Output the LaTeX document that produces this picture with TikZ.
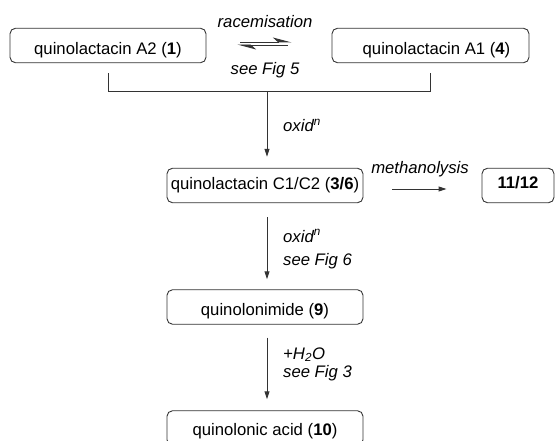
\documentclass[tikz,border=0pt]{standalone}
\usepackage{fontspec}
\setmainfont{Liberation Sans}
\usetikzlibrary{arrows.meta}
\begin{document}
\begin{tikzpicture}[x=1pt,y=-1pt,
  every node/.style={font=\fontsize{16.7}{20}\selectfont},
  box/.style={draw=black!80, line width=0.9pt, rounded corners=5.5pt,
    inner xsep=0pt, inner ysep=0pt, text height=#1, text depth=0pt,
    minimum height=34.5pt},
  box/.default=17pt,
  lbl/.style={font=\fontsize{16.7}{20}\selectfont\itshape, anchor=base west, inner sep=0pt},
  ln/.style={line width=0.9pt, draw=black!80},
  arr/.style={ln, -{Triangle[length=8pt,width=5pt]}},
  harp/.style={ln, -{Stealth[harpoon,length=17pt,width=9pt,inset=5pt]}}
]
\useasboundingbox (0,0) rectangle (557,441);

% boxes
\node[box=18pt, minimum width=196pt] (a2) at (108,45.5) {quinolactacin A2 (\textbf{1})};
\node[box=19pt, minimum width=197pt] (a1) at (430.5,45.5) {\hspace*{12pt}quinolactacin A1 (\textbf{4})};
\node[box=8pt, minimum width=196pt] (c) at (265,185.5) {quinolactacin C1/C2 (\textbf{3/6})};
\node[box=16pt, minimum width=196pt] (im) at (265,307) {quinolonimide (\textbf{9})};
\node[box=15pt, minimum width=196pt] (ac) at (265,428) {quinolonic acid (\textbf{10})};
\node[box=7pt, minimum width=72pt] (p) at (518,185.5) {\textbf{11/12}};

% equilibrium
\draw[harp, shorten <=34pt, shorten >=40pt] ([yshift=3.5pt]a2.east) -- ([yshift=3.5pt]a1.west);
\draw[harp, shorten <=44pt, shorten >=31pt] ([yshift=0.5pt]a1.west) -- ([yshift=0.5pt]a2.east);
\node[lbl, anchor=base] (rac) at (265,28) {racemisation};
\node[lbl, anchor=base] (sf5) at (265,75) {see Fig 5};

% bracket
\draw[ln] ([yshift=-10pt]a2.south) -- ++(0,18) coordinate (jl) -| ([yshift=-10pt]a1.south);
\coordinate (j) at (267,0 |- jl);
\draw[arr, shorten >=11pt] (267,0 |- jl) -- ([xshift=2pt]c.north);
\node[lbl] (ox1) at (283,132) {oxid\textsuperscript{n}};

% methanolysis
\draw[arr, shorten <=29pt, shorten >=35pt] ([yshift=-3.5pt]c.east) -- ([yshift=-3.5pt]p.west);
\node[lbl, anchor=base] (meth) at (420,174) {methanolysis};

% oxidation 2
\draw[arr, shorten <=14pt, shorten >=10pt] ([xshift=2pt]c.south) -- ([xshift=2pt]im.north);
\node[lbl] (ox2) at (283,242) {oxid\textsuperscript{n}};
\node[lbl] (sf6) at (283,265) {see Fig 6};

% hydrolysis
\draw[arr, shorten <=13pt, shorten >=11pt] ([xshift=2pt]im.south) -- ([xshift=2pt]ac.north);
\node[lbl] (h2o) at (283,359) {+H\textsubscript{2}O};
\node[lbl] (sf3) at (283,377) {see Fig 3};
\end{tikzpicture}
\end{document}
